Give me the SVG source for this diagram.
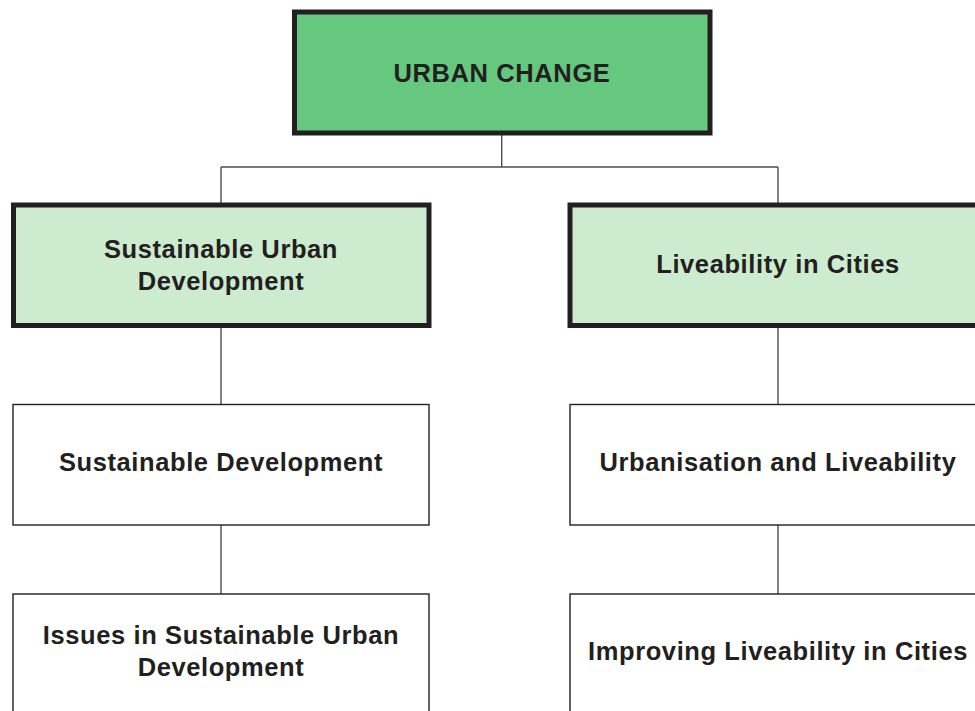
<svg xmlns="http://www.w3.org/2000/svg" width="975" height="711" viewBox="0 0 975 711">
<style>
.t{font-family:"Liberation Sans",Arial,sans-serif;font-weight:bold;font-size:25.5px;fill:#231f20;text-anchor:middle;letter-spacing:0.6px}
.main{fill:#66c87f;stroke:#231f20;stroke-width:5}
.sub{fill:#cdebcf;stroke:#231f20;stroke-width:5}
.leaf{fill:#fff;stroke:#231f20;stroke-width:1.4}
.c{fill:none;stroke:#4d4d4d;stroke-width:1.4}
</style>
<rect width="975" height="711" fill="#fff"/>
<g id="connectors">
<path class="c" d="M501.7 133V167M221 167H778M221 167V205M778 167V205"/>
<path class="c" d="M221 325.5V404.5M778 325.5V404.5"/>
<path class="c" d="M221 525V594M778 525V594"/>
</g>
<g id="urban-change">
<rect class="main" x="294.5" y="12" width="415.5" height="121"/>
<text class="t" x="502" y="81.7">URBAN CHANGE</text>
</g>
<g id="sustainable-urban-development">
<rect class="sub" x="13.5" y="205" width="415.5" height="120.5"/>
<text class="t" x="221" y="257.7">Sustainable Urban</text>
<text class="t" x="221" y="289.5">Development</text>
</g>
<g id="liveability-in-cities">
<rect class="sub" x="570" y="205" width="415.5" height="120.5"/>
<text class="t" x="778" y="273.3">Liveability in Cities</text>
</g>
<g id="sustainable-development">
<rect class="leaf" x="13" y="404.5" width="416" height="120.5"/>
<text class="t" x="221" y="471">Sustainable Development</text>
</g>
<g id="urbanisation-and-liveability">
<rect class="leaf" x="570" y="404.5" width="416" height="120.5"/>
<text class="t" x="778" y="471">Urbanisation and Liveability</text>
</g>
<g id="issues">
<rect class="leaf" x="13" y="594" width="416" height="130"/>
<text class="t" x="221" y="644">Issues in Sustainable Urban</text>
<text class="t" x="221" y="676">Development</text>
</g>
<g id="improving">
<rect class="leaf" x="570" y="594" width="416" height="130"/>
<text class="t" x="778" y="660">Improving Liveability in Cities</text>
</g>
</svg>
